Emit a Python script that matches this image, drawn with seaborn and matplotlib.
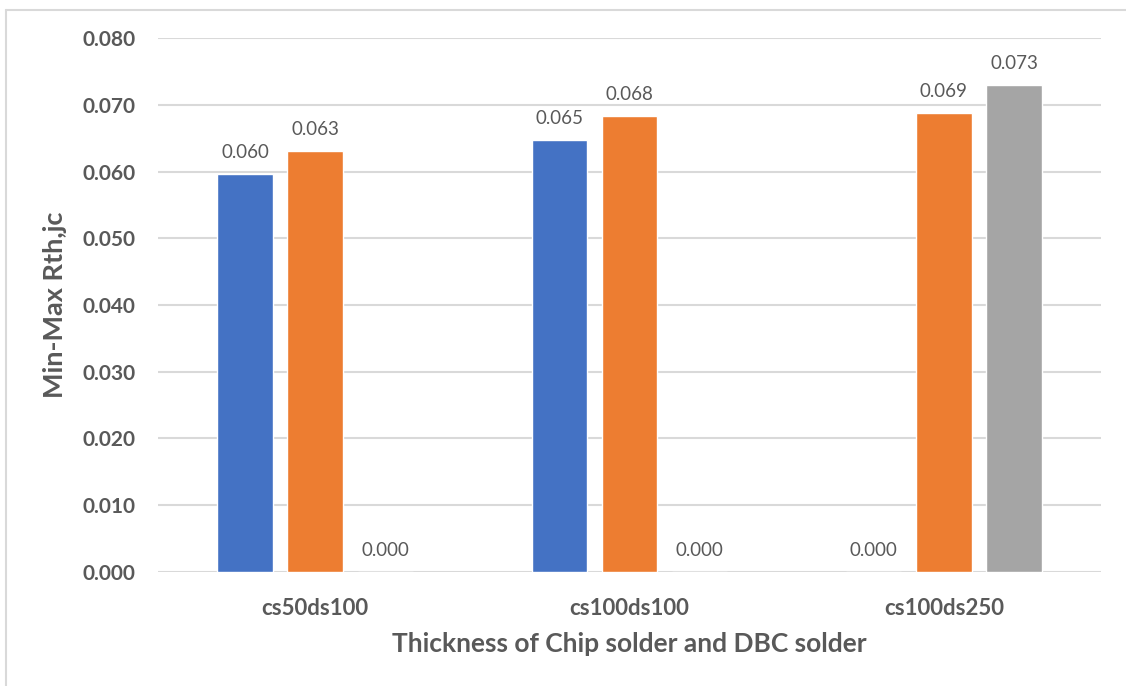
import matplotlib
matplotlib.use("Agg")
import matplotlib.pyplot as plt
from matplotlib.lines import Line2D
import seaborn as sns
import pandas as pd

# Thermal resistance (junction-to-case) per solder thickness configuration
configs = ["cs50ds100", "cs100ds100", "cs100ds250"]
series_names = ["Series1", "Series2", "Series3"]
series1 = [0.0596, 0.0647, 0.0]
series2 = [0.0631, 0.0683, 0.0688]
series3 = [0.0, 0.0, 0.0730]
yticks = [0.0, 0.01, 0.02, 0.03, 0.04, 0.05, 0.06, 0.07, 0.08]

colors = ["#4472C4", "#ED7D31", "#A5A5A5"]
text_color = "#595959"
grid_color = "#D9D9D9"

rows = []
for name, vals in zip(series_names, [series1, series2, series3]):
    for c, v in zip(configs, vals):
        rows.append({"config": c, "series": name, "value": v})
df = pd.DataFrame(rows)

sns.set_theme(style="white")
plt.rcParams["font.family"] = ["Lato", "DejaVu Sans"]

fig = plt.figure(figsize=(11.26, 6.86), dpi=100)
ax = fig.add_axes([0.1403, 0.1662, 0.8375, 0.7784])

sns.barplot(data=df, x="config", y="value", hue="series", order=configs,
            hue_order=series_names, palette=colors, width=0.67, gap=0.21,
            saturation=1, legend=False, ax=ax, errorbar=None)

for cont in ax.containers:
    ax.bar_label(cont, fmt="%.3f", padding=9.5, color=text_color, fontsize=13.5)

ax.set_xlim(-0.5, 2.5)
ax.set_ylim(0, 0.08)
ax.set_yticks(yticks)
ax.set_yticklabels([f"{t:.3f}" for t in yticks])
ax.yaxis.grid(True, color=grid_color, linewidth=1.5)
ax.set_axisbelow(True)
for s in ax.spines.values():
    s.set_visible(False)
ax.tick_params(axis="y", length=0, pad=16, labelsize=15, labelcolor=text_color)
ax.tick_params(axis="x", length=0, pad=19, labelsize=16, labelcolor=text_color)
for lab in ax.get_xticklabels() + ax.get_yticklabels():
    lab.set_fontweight("bold")

ax.set_xlabel("Thickness of Chip solder and DBC solder", fontsize=19,
              fontweight="bold", color=text_color, labelpad=9)
ax.set_ylabel("Min-Max Rth,jc", fontsize=19.5, fontweight="bold",
              color=text_color)
ax.yaxis.set_label_coords(-0.097, 0.5)

# light frame along the left and top edges of the figure
fig.add_artist(Line2D([6 / 1126, 6 / 1126], [0, 1 - 10 / 686],
                      transform=fig.transFigure, color=grid_color, lw=1.5))
fig.add_artist(Line2D([6 / 1126, 1], [1 - 10 / 686, 1 - 10 / 686],
                      transform=fig.transFigure, color=grid_color, lw=1.5))

fig.savefig("out.png", dpi=100)
